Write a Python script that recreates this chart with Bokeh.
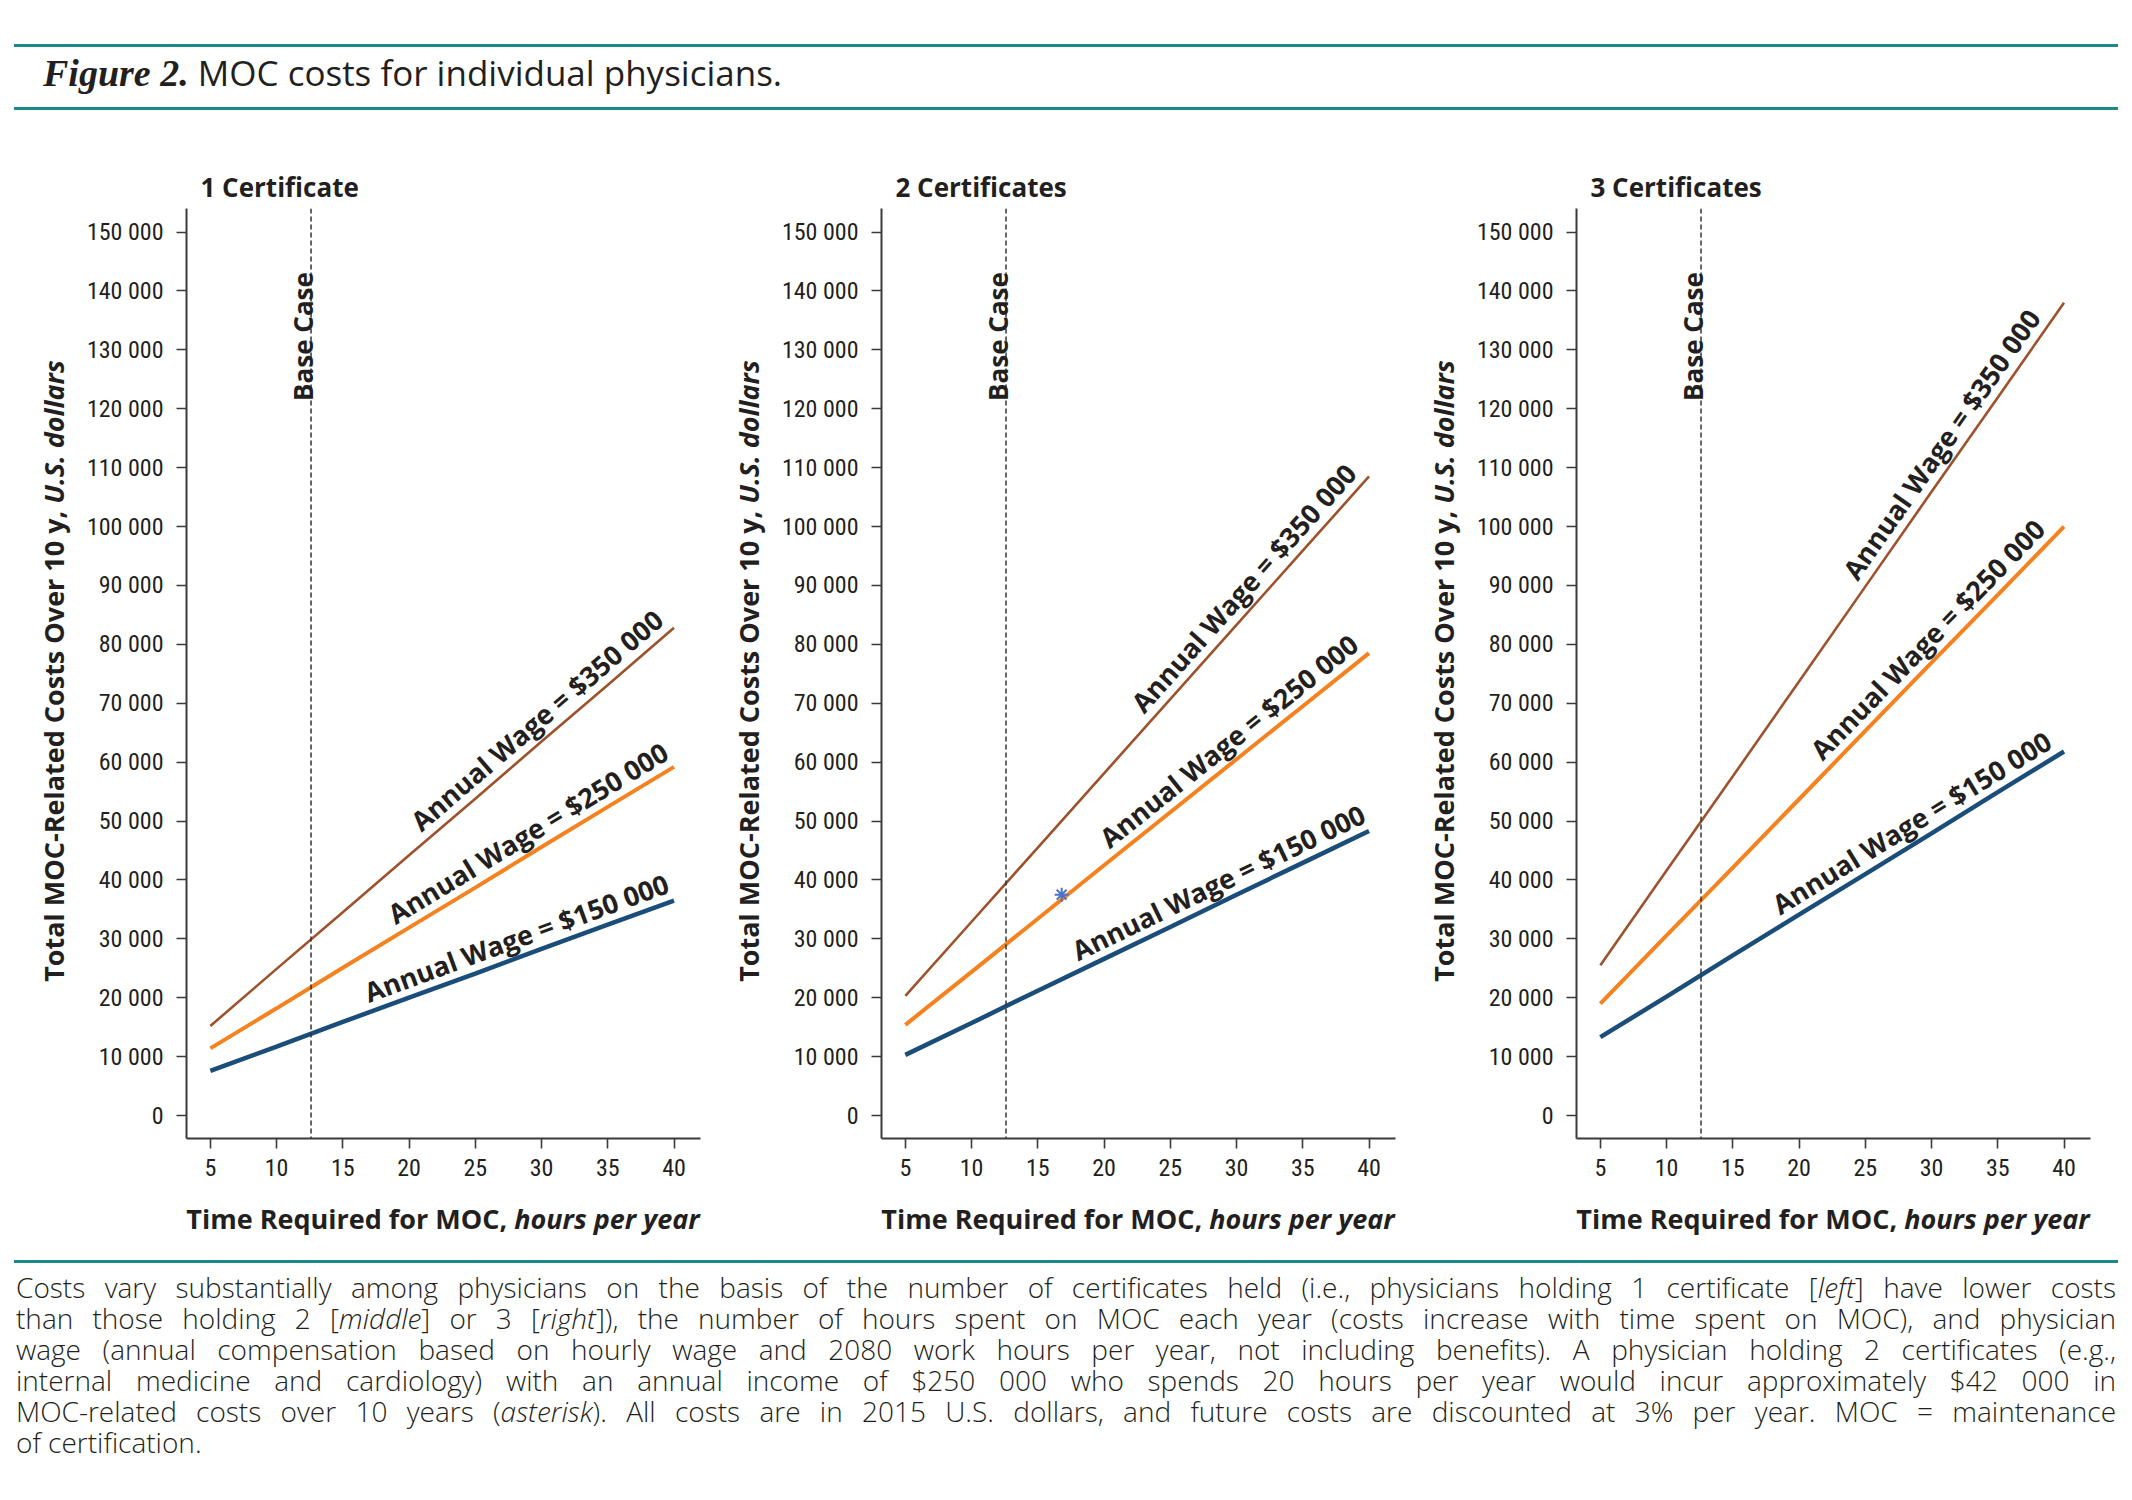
import math
import numpy as np
from bokeh.plotting import figure
from bokeh.models import Range1d, FixedTicker, Span, Label, Div, Title
from bokeh.layouts import row, column
from bokeh.embed import file_html
from bokeh.resources import INLINE
from bokeh.core.properties import value

# ---------------- data ----------------
hours = [5, 10, 15, 20, 25, 30, 35, 40]
wages = [150000, 250000, 350000]
wage_labels = ["Annual Wage = $150 000", "Annual Wage = $250 000", "Annual Wage = $350 000"]
panel_titles = ["1 Certificate", "2 Certificates", "3 Certificates"]

cost_1cert_150k = [7600, 11700, 15900, 20000, 24100, 28300, 32400, 36500]
cost_1cert_250k = [11400, 18200, 25100, 31900, 38700, 45600, 52400, 59200]
cost_1cert_350k = [15200, 24900, 34500, 44200, 53800, 63500, 73100, 82800]
cost_2cert_150k = [10300, 15700, 21200, 26600, 32000, 37500, 42900, 48300]
cost_2cert_250k = [15400, 24400, 33400, 42500, 51500, 60500, 69500, 78500]
cost_2cert_350k = [20300, 32900, 45500, 58100, 70700, 83300, 95900, 108500]
cost_3cert_150k = [13300, 20200, 27200, 34100, 41000, 47900, 54900, 61800]
cost_3cert_250k = [19000, 30600, 42100, 53700, 65300, 76900, 88400, 100000]
cost_3cert_350k = [25500, 41600, 57600, 73700, 89800, 105900, 121900, 138000]

base_case_hours = 12.6
base_case_label = "Base Case"
asterisk_hours = [16.8]
asterisk_cost = [37500]

x_ticks = [5, 10, 15, 20, 25, 30, 35, 40]
y_ticks = [0, 10000, 20000, 30000, 40000, 50000, 60000, 70000, 80000,
           90000, 100000, 110000, 120000, 130000, 140000, 150000]
y_tick_labels = ["0", "10 000", "20 000", "30 000", "40 000", "50 000", "60 000",
                 "70 000", "80 000", "90 000", "100 000", "110 000", "120 000",
                 "130 000", "140 000", "150 000"]

y_axis_title_main = "Total MOC-Related Costs Over 10 y,"
y_axis_title_ital = "U.S. dollars"
x_axis_title_main = "Time Required for MOC,"
x_axis_title_ital = "hours per year"

fig_title_bold = "Figure 2."
fig_title_rest = "MOC costs for individual physicians."
caption_lines = [
    "Costs vary substantially among physicians on the basis of the number of certificates held (i.e., physicians holding 1 certificate [<i>left</i>] have lower costs",
    "than those holding 2 [<i>middle</i>] or 3 [<i>right</i>]), the number of hours spent on MOC each year (costs increase with time spent on MOC), and physician",
    "wage (annual compensation based on hourly wage and 2080 work hours per year, not including benefits). A physician holding 2 certificates (e.g.,",
    "internal medicine and cardiology) with an annual income of $250 000 who spends 20 hours per year would incur approximately $42 000 in",
    "MOC-related costs over 10 years (<i>asterisk</i>). All costs are in 2015 U.S. dollars, and future costs are discounted at 3% per year. MOC = maintenance",
    "of certification.",
]

panels = [
    [cost_1cert_150k, cost_1cert_250k, cost_1cert_350k],
    [cost_2cert_150k, cost_2cert_250k, cost_2cert_350k],
    [cost_3cert_150k, cost_3cert_250k, cost_3cert_350k],
]

# ---------------- styles / layout ----------------
COLORS = ["#1b4d7a", "#f5821f", "#9e522c"]
WIDTHS = [4.5, 4.0, 2.6]
TEAL = "#1b8985"
INK = "#231f20"
AXIS = "#3a3a3a"
X0, X1 = 3.2, 42.0
Y0, Y1 = -3900, 154000
FRAME_W, FRAME_H = 514, 930
BORDER_L, BORDER_R, BORDER_T, BORDER_B = 108, 3, 80, 55
YLAB_W = 70
XLAB_H = 55
LABEL_END = [[40.0, 40.1, 39.8], [40.2, 39.8, 39.7], [39.6, 39.2, 38.9]]
BOLD_FONT = "Open Sans"
TICK_FONT = "'Roboto Condensed', Roboto"
LABEL_CSS = f"font-family:'Open Sans';font-weight:bold;font-size:27px;color:{INK};white-space:nowrap;line-height:32px;"


def make_panel(idx):
    p = figure(frame_width=FRAME_W, frame_height=FRAME_H,
               x_range=Range1d(X0, X1), y_range=Range1d(Y0, Y1),
               output_backend="svg", toolbar_location=None,
               min_border_left=BORDER_L, min_border_right=BORDER_R,
               min_border_top=BORDER_T, min_border_bottom=BORDER_B)
    p.outline_line_color = None
    p.xgrid.visible = False
    p.ygrid.visible = False
    p.background_fill_color = "white"
    p.border_fill_color = "white"

    p.add_layout(Title(text=panel_titles[idx], align="left", offset=14, standoff=8,
                       text_font=BOLD_FONT, text_font_style="bold",
                       text_font_size="26px", text_color=INK), "above")

    p.xaxis.ticker = FixedTicker(ticks=x_ticks)
    p.yaxis.ticker = FixedTicker(ticks=y_ticks)
    p.yaxis.major_label_overrides = {t: l for t, l in zip(y_ticks, y_tick_labels)}
    for ax in (p.xaxis, p.yaxis):
        ax.axis_line_color = AXIS
        ax.axis_line_width = 2
        ax.major_tick_line_color = AXIS
        ax.major_tick_line_width = 1.6
        ax.major_tick_out = 10
        ax.major_tick_in = 0
        ax.minor_tick_out = 0
        ax.minor_tick_in = 0
        ax.major_label_text_font = TICK_FONT
        ax.major_label_text_font_size = "24px"
        ax.major_label_text_color = INK
    p.xaxis.major_label_standoff = 10
    p.yaxis.major_label_standoff = 13

    # base case line
    p.add_layout(Span(location=base_case_hours, dimension="height",
                      line_color="#333333", line_width=1.5, line_dash="5 3"))
    p.add_layout(Label(x=base_case_hours, y=143200, text=base_case_label,
                       angle=math.pi / 2, text_align="right",
                       text_baseline="alphabetic", x_offset=-8,
                       text_font=BOLD_FONT, text_font_style="bold",
                       text_font_size="26px", text_color=INK))

    series = panels[idx]
    sx = FRAME_W / (X1 - X0)
    sy = FRAME_H / (Y1 - Y0)
    tx, ty, ta, tt, ox, oy = [], [], [], [], [], []
    for k, costs in enumerate(series):
        p.line(hours, costs, line_color=COLORS[k], line_width=WIDTHS[k])
        th = math.atan2((costs[-1] - costs[0]) * sy, (hours[-1] - hours[0]) * sx)
        xe = LABEL_END[idx][k]
        tx.append(xe)
        if xe <= hours[-1]:
            ty.append(float(np.interp(xe, hours, costs)))
        else:
            ty.append(costs[-1] + (xe - hours[-1]) * (costs[-1] - costs[-2]) / (hours[-1] - hours[-2]))
        ta.append(th)
        tt.append(wage_labels[k])
        gap = 1.0
        ox.append(-gap * math.sin(th))
        oy.append(-gap * math.cos(th))
    p.text(x=tx, y=ty, text=tt, angle=ta, x_offset=ox, y_offset=oy,
           text_align="right", text_baseline="bottom",
           text_font=value(BOLD_FONT), text_font_style="bold",
           text_font_size="27px", text_color=INK)

    if idx == 1:
        p.scatter(asterisk_hours, asterisk_cost, marker="asterisk", size=14,
                  line_color="#4a72c8", line_width=2)

    fig_w = BORDER_L + FRAME_W + BORDER_R
    fig_h = BORDER_T + FRAME_H + BORDER_B
    frame_cx = BORDER_L + FRAME_W / 2
    frame_cy = BORDER_T + FRAME_H / 2

    xlab = Div(text=(f'<div style="position:relative;width:{fig_w}px;height:{XLAB_H}px;">'
                     f'<div style="position:absolute;left:{frame_cx:.0f}px;top:{XLAB_H/2 - 2:.0f}px;'
                     f'transform:translate(-50%,-50%);{LABEL_CSS}">{x_axis_title_main} '
                     f'<i>{x_axis_title_ital}</i></div></div>'),
               width=fig_w, height=XLAB_H, margin=0)
    ylab = Div(text=(f'<div style="position:relative;width:{YLAB_W}px;height:{fig_h + XLAB_H}px;">'
                     f'<div style="position:absolute;left:46px;top:{frame_cy - 2:.0f}px;'
                     f'transform:translate(-50%,-50%) rotate(-90deg);{LABEL_CSS}">{y_axis_title_main} '
                     f'<i>{y_axis_title_ital}</i></div></div>'),
               width=YLAB_W, height=fig_h + XLAB_H, margin=0)
    return row(ylab, column(p, xlab, spacing=0), spacing=0)


blocks = [make_panel(i) for i in range(3)]

header_html = f"""
<div style="position:relative;width:2116px;height:120px;">
  <div style="position:absolute;left:6px;top:36px;width:2104px;height:3px;background:{TEAL};"></div>
  <div style="position:absolute;left:35px;top:43px;line-height:44px;font-size:35px;font-family:'Open Sans';color:{INK};white-space:nowrap;"><span style="font-family:'Liberation Serif';font-weight:bold;font-style:italic;font-size:38px;">{fig_title_bold}</span> {fig_title_rest}</div>
  <div style="position:absolute;left:6px;top:99px;width:2104px;height:3px;background:{TEAL};"></div>
</div>
"""
header = Div(text=header_html, width=2116, height=120, margin=0)

line_divs = []
for i, ln in enumerate(caption_lines):
    last = i == len(caption_lines) - 1
    align = "left" if last else "justify"
    line_divs.append(
        f'<div style="text-align:{align};text-align-last:{align};white-space:nowrap;height:31px;">{ln}</div>')
caption_html = f"""
<div style="position:relative;width:2116px;height:235px;">
  <div style="position:absolute;left:6px;top:12px;width:2104px;height:3px;background:{TEAL};"></div>
  <div style="position:absolute;left:8px;top:24px;width:2100px;font-family:'Open Sans';font-weight:300;font-size:28px;line-height:31px;color:{INK};">
  {''.join(line_divs)}
  </div>
</div>
"""
caption = Div(text=caption_html, width=2116, height=235, margin=0)

layout = column(header, row(*blocks, spacing=0), caption, spacing=0, margin=(8, 0, 0, 8))

with open("out.html", "w") as f:
    f.write(file_html(layout, INLINE))
